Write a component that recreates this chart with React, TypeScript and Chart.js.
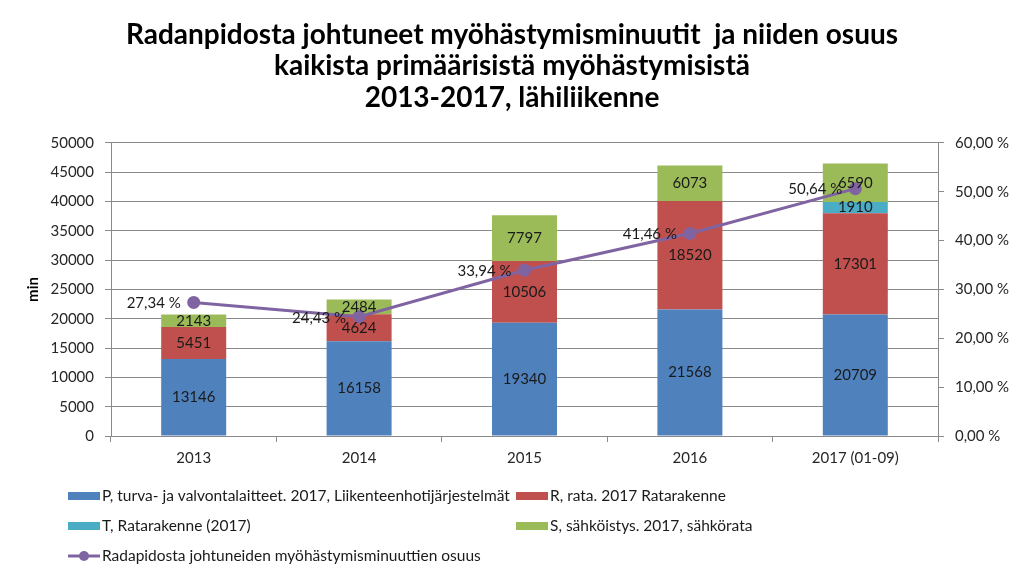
import React, { useEffect, useRef } from "react";
import { Chart, registerables } from "chart.js";

Chart.register(...registerables);

const categories = ["2013", "2014", "2015", "2016", "2017 (01-09)"];
const pValues = [13146, 16158, 19340, 21568, 20709];
const rValues = [5451, 4624, 10506, 18520, 17301];
const tValues = [null, null, null, null, 1910];
const sValues = [2143, 2484, 7797, 6073, 6590];
const shareValues = [27.34, 24.43, 33.94, 41.46, 50.64];

const seriesLabels = [
  "P, turva- ja valvontalaitteet. 2017, Liikenteenhotijärjestelmät",
  "R, rata. 2017 Ratarakenne",
  "T, Ratarakenne (2017)",
  "S, sähköistys. 2017, sähkörata",
  "Radapidosta johtuneiden myöhästymisminuuttien osuus",
];
const titleLines = [
  "Radanpidosta johtuneet myöhästymisminuutit  ja niiden osuus",
  "kaikista primäärisistä myöhästymisistä",
  "2013-2017, lähiliikenne",
];

const BLUE = "#4F81BD";
const RED = "#C0504D";
const CYAN = "#4BACC6";
const GREEN = "#9BBB59";
const PURPLE = "#8064A2";
const GRID = "#8a8a8a";
const TEXT = "#262626";
const FONT = "Lato, 'Open Sans', sans-serif";

const fmtPct = (v: number) => v.toFixed(2).replace(".", ",") + " %";

const dataLabelPlugin = {
  id: "dataLabels",
  afterDatasetsDraw(chart: any) {
    const ctx = chart.ctx;
    ctx.save();
    ctx.font = `15px ${FONT}`;
    ctx.fillStyle = "#1a1a1a";
    chart.data.datasets.forEach((ds: any, di: number) => {
      const meta = chart.getDatasetMeta(di);
      if (meta.hidden) return;
      meta.data.forEach((el: any, i: number) => {
        const v = ds.data[i];
        if (v == null) return;
        if (meta.type === "bar") {
          ctx.textAlign = "center";
          ctx.textBaseline = "middle";
          ctx.fillText(String(v), el.x, (el.y + el.base) / 2);
        } else {
          ctx.textAlign = "right";
          ctx.textBaseline = "middle";
          ctx.fillText(fmtPct(v), el.x - 13, el.y + 1);
        }
      });
    });
    ctx.restore();
  },
};

const legendPlugin = {
  id: "gridLegend",
  afterDraw(chart: any) {
    const ctx = chart.ctx;
    const cols = [68, 516];
    const rows = [496, 526, 556];
    const slots = [
      [0, 0],
      [1, 0],
      [0, 1],
      [1, 1],
      [0, 2],
    ];
    ctx.save();
    ctx.font = `15.5px ${FONT}`;
    ctx.textBaseline = "middle";
    ctx.textAlign = "left";
    chart.data.datasets.forEach((ds: any, di: number) => {
      const [c, r] = slots[di];
      const x = cols[c];
      const y = rows[r];
      if (ds.type === "line") {
        ctx.strokeStyle = ds.borderColor;
        ctx.lineWidth = 3;
        ctx.beginPath();
        ctx.moveTo(x, y);
        ctx.lineTo(x + 32, y);
        ctx.stroke();
        ctx.fillStyle = ds.pointBackgroundColor;
        ctx.beginPath();
        ctx.arc(x + 16, y, 5, 0, Math.PI * 2);
        ctx.fill();
      } else {
        ctx.fillStyle = ds.backgroundColor;
        ctx.fillRect(x, y - 4, 32, 8);
      }
      ctx.fillStyle = "#1a1a1a";
      ctx.fillText(ds.label, x + 34, y);
    });
    ctx.restore();
  },
};

export default function App() {
  const canvasRef = useRef<HTMLCanvasElement | null>(null);

  useEffect(() => {
    document.body.style.margin = "0";
    const canvas = canvasRef.current;
    if (!canvas) return;
    const chart = new Chart(canvas, {
      type: "bar",
      data: {
        labels: categories,
        datasets: [
          { type: "bar", label: seriesLabels[0], data: pValues, backgroundColor: BLUE, yAxisID: "y", order: 1 },
          { type: "bar", label: seriesLabels[1], data: rValues, backgroundColor: RED, yAxisID: "y", order: 1 },
          { type: "bar", label: seriesLabels[2], data: tValues as any, backgroundColor: CYAN, yAxisID: "y", order: 1 },
          { type: "bar", label: seriesLabels[3], data: sValues, backgroundColor: GREEN, yAxisID: "y", order: 1 },
          {
            type: "line",
            label: seriesLabels[4],
            data: shareValues,
            borderColor: PURPLE,
            backgroundColor: PURPLE,
            pointBackgroundColor: PURPLE,
            pointBorderColor: PURPLE,
            pointRadius: 5,
            borderWidth: 3,
            yAxisID: "y1",
            order: 0,
          } as any,
        ],
      },
      options: {
        animation: false,
        responsive: true,
        maintainAspectRatio: false,
        datasets: { bar: { barPercentage: 0.393, categoryPercentage: 1 } },
        layout: { padding: { left: 0, right: 0, top: 0, bottom: 112 } },
        plugins: {
          legend: { display: false },
          tooltip: { enabled: false },
          title: {
            display: true,
            text: titleLines,
            color: "#000",
            font: { family: FONT, size: 28, weight: "bold", lineHeight: 1.13 },
            padding: { top: 19, bottom: 29 },
          },
        },
        scales: {
          x: {
            stacked: true,
            offset: true,
            grid: { offset: true, drawOnChartArea: false, drawTicks: true, tickLength: 6, color: GRID },
            border: { color: GRID },
            ticks: { color: TEXT, font: { family: FONT, size: 15 }, padding: 7 },
            afterFit: (s: any) => {
              s.height = 30;
            },
          },
          y: {
            stacked: true,
            position: "left",
            min: 0,
            max: 50000,
            ticks: { stepSize: 5000, color: TEXT, font: { family: FONT, size: 15 }, padding: 11, callback: (v: any) => String(v) },
            grid: { color: GRID, tickLength: 6 },
            border: { color: GRID },
            title: { display: true, text: "min", color: "#000", font: { family: FONT, size: 15, weight: "bold" }, padding: { top: 24, bottom: 0 } },
            afterFit: (s: any) => {
              s.width = 111;
            },
          },
          y1: {
            position: "right",
            min: 0,
            max: 60,
            ticks: { stepSize: 10, color: TEXT, font: { family: FONT, size: 15 }, padding: 11, callback: (v: any) => fmtPct(Number(v)) },
            grid: { drawOnChartArea: false, tickLength: 6, color: GRID },
            border: { color: GRID },
            afterFit: (s: any) => {
              s.width = 86;
            },
          },
        },
      },
      plugins: [dataLabelPlugin, legendPlugin],
    } as any);
    return () => chart.destroy();
  }, []);

  return (
    <div style={{ position: "relative", width: "1024px", height: "578px" }}>
      <canvas ref={canvasRef} />
    </div>
  );
}
